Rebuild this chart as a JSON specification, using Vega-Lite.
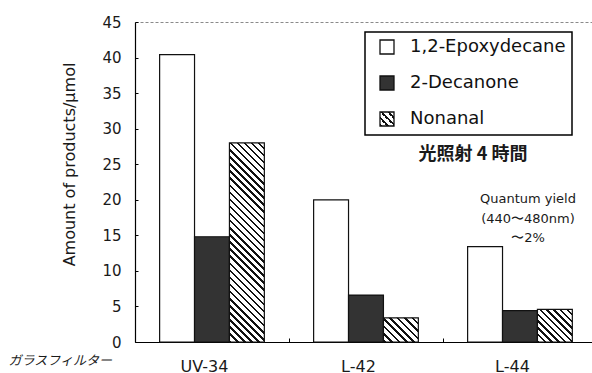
{
  "$schema": "https://vega.github.io/schema/vega-lite/v6.json",
  "width": 457,
  "height": 320,
  "autosize": {"type": "none"},
  "padding": {"left": 135, "top": 22, "right": 0, "bottom": 31},
  "background": "white",
  "view": {"stroke": "#8a8a8a", "strokeDash": [3, 2], "strokeWidth": 1},
  "config": {
    "axis": {"domainColor": "#000", "domainWidth": 1.2, "tickColor": "#000", "tickWidth": 1, "labelColor": "#1a1a1a", "labelFont": "DejaVu Sans", "titleFont": "DejaVu Sans", "titleColor": "#1a1a1a", "grid": false, "labelOverlap": false},
    "legend": {"strokeColor": "#000", "strokeWidth": 1.5, "fillColor": "#fff", "padding": 6, "cornerRadius": 0}
  },
  "data": {"values": [
    {"group": "UV-34", "series": "1,2-Epoxydecane", "value": 40.4},
    {"group": "UV-34", "series": "2-Decanone", "value": 14.8},
    {"group": "UV-34", "series": "Nonanal", "value": 28.0},
    {"group": "L-42", "series": "1,2-Epoxydecane", "value": 20.0},
    {"group": "L-42", "series": "2-Decanone", "value": 6.6},
    {"group": "L-42", "series": "Nonanal", "value": 3.4},
    {"group": "L-44", "series": "1,2-Epoxydecane", "value": 13.4},
    {"group": "L-44", "series": "2-Decanone", "value": 4.4},
    {"group": "L-44", "series": "Nonanal", "value": 4.6}
  ]},
  "layer": [
    {
      "mark": {"type": "bar", "strokeWidth": 1.2},
      "encoding": {
        "x": {
          "field": "group", "type": "nominal",
          "scale": {"domain": ["UV-34", "L-42", "L-44"], "paddingInner": 0.32, "paddingOuter": 0.1438, "align": 0.556},
          "axis": {
            "title": "ガラスフィルター", "titleFont": "Noto Sans CJK JP", "titleFontSize": 13, "titleFontStyle": "italic", "titleFontWeight": "normal",
            "titleX": -127, "titleY": 18, "titleAlign": "left", "titleBaseline": "middle", "titleAngle": 0,
            "labelAngle": 0, "labelFontSize": 16, "labelPadding": 20, "labelBaseline": "top",
            "tickSize": -4, "tickOffset": -77, "labelOffset": 69
          }
        },
        "xOffset": {"field": "series", "type": "nominal", "scale": {"domain": ["1,2-Epoxydecane", "2-Decanone", "Nonanal"], "paddingInner": 0, "paddingOuter": 0}},
        "y": {
          "field": "value", "type": "quantitative",
          "scale": {"domain": [0, 45], "nice": false},
          "axis": {
            "values": [0, 5, 10, 15, 20, 25, 30, 35, 40, 45],
            "title": "Amount of products/μmol", "titleFontSize": 16, "titleFontWeight": "normal",
            "titleAngle": 270, "titleX": -66, "titleY": 142, "titleAlign": "center", "titleBaseline": "middle",
            "labelFontSize": 15, "labelPadding": 17, "tickSize": -3, "labelOverlap": false
          }
        },
        "stroke": {
          "field": "series", "type": "nominal",
          "scale": {"domain": ["1,2-Epoxydecane", "2-Decanone", "Nonanal"], "range": ["#111111", "#111111", "#111111"]},
          "legend": {
            "title": null, "orient": "none", "legendX": 230, "legendY": 10,
            "symbolType": "square", "symbolSize": 196, "symbolStrokeWidth": 1.3, "symbolOffset": 7,
            "labelFont": "DejaVu Sans", "labelFontSize": 18, "labelColor": "#111", "labelOffset": 14, "rowPadding": 16,
            "labelExpr": "datum.label + '\u00a0\u00a0\u00a0\u00a0\u00a0'",
            "encoding": {
              "symbols": {
                "strokeWidth": {"value": 1.3},
                "fill": {
                  "condition": [
                    {"test": "datum.value === 'Nonanal'", "value": {"gradient": "linear", "x1": 0, "y1": 1, "x2": 1, "y2": 0, "stops": [
                      {"offset": 0, "color": "#111"}, {"offset": 0.0875, "color": "#111"}, {"offset": 0.0875, "color": "#fff"}, {"offset": 0.25, "color": "#fff"},
                      {"offset": 0.25, "color": "#111"}, {"offset": 0.3375, "color": "#111"}, {"offset": 0.3375, "color": "#fff"}, {"offset": 0.5, "color": "#fff"},
                      {"offset": 0.5, "color": "#111"}, {"offset": 0.5875, "color": "#111"}, {"offset": 0.5875, "color": "#fff"}, {"offset": 0.75, "color": "#fff"},
                      {"offset": 0.75, "color": "#111"}, {"offset": 0.8375, "color": "#111"}, {"offset": 0.8375, "color": "#fff"}, {"offset": 1, "color": "#fff"}
                    ]}},
                    {"test": "datum.value === '2-Decanone'", "value": "#333333"}
                  ],
                  "value": "#ffffff"
                }
              }
            }
          }
        },
        "fill": {
          "condition": [
            {"test": "datum.series === 'Nonanal' && datum.group === 'UV-34'", "value": {"gradient": "linear", "x1": 0, "y1": 1, "x2": 0.1999, "y2": -0.1403, "stops": [
              {"offset": 0, "color": "#111"}, {"offset": 0.0106, "color": "#111"}, {"offset": 0.0106, "color": "#fff"}, {"offset": 0.0303, "color": "#fff"},
              {"offset": 0.0303, "color": "#111"}, {"offset": 0.0409, "color": "#111"}, {"offset": 0.0409, "color": "#fff"}, {"offset": 0.0606, "color": "#fff"},
              {"offset": 0.0606, "color": "#111"}, {"offset": 0.0712, "color": "#111"}, {"offset": 0.0712, "color": "#fff"}, {"offset": 0.0909, "color": "#fff"},
              {"offset": 0.0909, "color": "#111"}, {"offset": 0.1015, "color": "#111"}, {"offset": 0.1015, "color": "#fff"}, {"offset": 0.1212, "color": "#fff"},
              {"offset": 0.1212, "color": "#111"}, {"offset": 0.1318, "color": "#111"}, {"offset": 0.1318, "color": "#fff"}, {"offset": 0.1515, "color": "#fff"},
              {"offset": 0.1515, "color": "#111"}, {"offset": 0.1621, "color": "#111"}, {"offset": 0.1621, "color": "#fff"}, {"offset": 0.1818, "color": "#fff"},
              {"offset": 0.1818, "color": "#111"}, {"offset": 0.1924, "color": "#111"}, {"offset": 0.1924, "color": "#fff"}, {"offset": 0.2121, "color": "#fff"},
              {"offset": 0.2121, "color": "#111"}, {"offset": 0.2227, "color": "#111"}, {"offset": 0.2227, "color": "#fff"}, {"offset": 0.2424, "color": "#fff"},
              {"offset": 0.2424, "color": "#111"}, {"offset": 0.2530, "color": "#111"}, {"offset": 0.2530, "color": "#fff"}, {"offset": 0.2727, "color": "#fff"},
              {"offset": 0.2727, "color": "#111"}, {"offset": 0.2833, "color": "#111"}, {"offset": 0.2833, "color": "#fff"}, {"offset": 0.3030, "color": "#fff"},
              {"offset": 0.3030, "color": "#111"}, {"offset": 0.3136, "color": "#111"}, {"offset": 0.3136, "color": "#fff"}, {"offset": 0.3333, "color": "#fff"},
              {"offset": 0.3333, "color": "#111"}, {"offset": 0.3439, "color": "#111"}, {"offset": 0.3439, "color": "#fff"}, {"offset": 0.3636, "color": "#fff"},
              {"offset": 0.3636, "color": "#111"}, {"offset": 0.3742, "color": "#111"}, {"offset": 0.3742, "color": "#fff"}, {"offset": 0.3939, "color": "#fff"},
              {"offset": 0.3939, "color": "#111"}, {"offset": 0.4045, "color": "#111"}, {"offset": 0.4045, "color": "#fff"}, {"offset": 0.4242, "color": "#fff"},
              {"offset": 0.4242, "color": "#111"}, {"offset": 0.4348, "color": "#111"}, {"offset": 0.4348, "color": "#fff"}, {"offset": 0.4545, "color": "#fff"},
              {"offset": 0.4545, "color": "#111"}, {"offset": 0.4652, "color": "#111"}, {"offset": 0.4652, "color": "#fff"}, {"offset": 0.4848, "color": "#fff"},
              {"offset": 0.4848, "color": "#111"}, {"offset": 0.4955, "color": "#111"}, {"offset": 0.4955, "color": "#fff"}, {"offset": 0.5152, "color": "#fff"},
              {"offset": 0.5152, "color": "#111"}, {"offset": 0.5258, "color": "#111"}, {"offset": 0.5258, "color": "#fff"}, {"offset": 0.5455, "color": "#fff"},
              {"offset": 0.5455, "color": "#111"}, {"offset": 0.5561, "color": "#111"}, {"offset": 0.5561, "color": "#fff"}, {"offset": 0.5758, "color": "#fff"},
              {"offset": 0.5758, "color": "#111"}, {"offset": 0.5864, "color": "#111"}, {"offset": 0.5864, "color": "#fff"}, {"offset": 0.6061, "color": "#fff"},
              {"offset": 0.6061, "color": "#111"}, {"offset": 0.6167, "color": "#111"}, {"offset": 0.6167, "color": "#fff"}, {"offset": 0.6364, "color": "#fff"},
              {"offset": 0.6364, "color": "#111"}, {"offset": 0.6470, "color": "#111"}, {"offset": 0.6470, "color": "#fff"}, {"offset": 0.6667, "color": "#fff"},
              {"offset": 0.6667, "color": "#111"}, {"offset": 0.6773, "color": "#111"}, {"offset": 0.6773, "color": "#fff"}, {"offset": 0.6970, "color": "#fff"},
              {"offset": 0.6970, "color": "#111"}, {"offset": 0.7076, "color": "#111"}, {"offset": 0.7076, "color": "#fff"}, {"offset": 0.7273, "color": "#fff"},
              {"offset": 0.7273, "color": "#111"}, {"offset": 0.7379, "color": "#111"}, {"offset": 0.7379, "color": "#fff"}, {"offset": 0.7576, "color": "#fff"},
              {"offset": 0.7576, "color": "#111"}, {"offset": 0.7682, "color": "#111"}, {"offset": 0.7682, "color": "#fff"}, {"offset": 0.7879, "color": "#fff"},
              {"offset": 0.7879, "color": "#111"}, {"offset": 0.7985, "color": "#111"}, {"offset": 0.7985, "color": "#fff"}, {"offset": 0.8182, "color": "#fff"},
              {"offset": 0.8182, "color": "#111"}, {"offset": 0.8288, "color": "#111"}, {"offset": 0.8288, "color": "#fff"}, {"offset": 0.8485, "color": "#fff"},
              {"offset": 0.8485, "color": "#111"}, {"offset": 0.8591, "color": "#111"}, {"offset": 0.8591, "color": "#fff"}, {"offset": 0.8788, "color": "#fff"},
              {"offset": 0.8788, "color": "#111"}, {"offset": 0.8894, "color": "#111"}, {"offset": 0.8894, "color": "#fff"}, {"offset": 0.9091, "color": "#fff"},
              {"offset": 0.9091, "color": "#111"}, {"offset": 0.9197, "color": "#111"}, {"offset": 0.9197, "color": "#fff"}, {"offset": 0.9394, "color": "#fff"},
              {"offset": 0.9394, "color": "#111"}, {"offset": 0.9500, "color": "#111"}, {"offset": 0.9500, "color": "#fff"}, {"offset": 0.9697, "color": "#fff"},
              {"offset": 0.9697, "color": "#111"}, {"offset": 0.9803, "color": "#111"}, {"offset": 0.9803, "color": "#fff"}, {"offset": 1, "color": "#fff"}
            ]}},
            {"test": "datum.series === 'Nonanal' && datum.group === 'L-42'", "value": {"gradient": "linear", "x1": 0, "y1": 1, "x2": 1.1439, "y2": 0.2077, "stops": [
              {"offset": 0, "color": "#111"}, {"offset": 0.0438, "color": "#111"}, {"offset": 0.0438, "color": "#fff"}, {"offset": 0.125, "color": "#fff"},
              {"offset": 0.125, "color": "#111"}, {"offset": 0.1688, "color": "#111"}, {"offset": 0.1688, "color": "#fff"}, {"offset": 0.25, "color": "#fff"},
              {"offset": 0.25, "color": "#111"}, {"offset": 0.2938, "color": "#111"}, {"offset": 0.2938, "color": "#fff"}, {"offset": 0.375, "color": "#fff"},
              {"offset": 0.375, "color": "#111"}, {"offset": 0.4188, "color": "#111"}, {"offset": 0.4188, "color": "#fff"}, {"offset": 0.5, "color": "#fff"},
              {"offset": 0.5, "color": "#111"}, {"offset": 0.5438, "color": "#111"}, {"offset": 0.5438, "color": "#fff"}, {"offset": 0.625, "color": "#fff"},
              {"offset": 0.625, "color": "#111"}, {"offset": 0.6688, "color": "#111"}, {"offset": 0.6688, "color": "#fff"}, {"offset": 0.75, "color": "#fff"},
              {"offset": 0.75, "color": "#111"}, {"offset": 0.7938, "color": "#111"}, {"offset": 0.7938, "color": "#fff"}, {"offset": 0.875, "color": "#fff"},
              {"offset": 0.875, "color": "#111"}, {"offset": 0.9188, "color": "#111"}, {"offset": 0.9188, "color": "#fff"}, {"offset": 1, "color": "#fff"}
            ]}},
            {"test": "datum.series === 'Nonanal' && datum.group === 'L-44'", "value": {"gradient": "linear", "x1": 0, "y1": 1, "x2": 1.0314, "y2": 0.0336, "stops": [
              {"offset": 0, "color": "#111"}, {"offset": 0.035, "color": "#111"}, {"offset": 0.035, "color": "#fff"}, {"offset": 0.1, "color": "#fff"},
              {"offset": 0.1, "color": "#111"}, {"offset": 0.135, "color": "#111"}, {"offset": 0.135, "color": "#fff"}, {"offset": 0.2, "color": "#fff"},
              {"offset": 0.2, "color": "#111"}, {"offset": 0.235, "color": "#111"}, {"offset": 0.235, "color": "#fff"}, {"offset": 0.3, "color": "#fff"},
              {"offset": 0.3, "color": "#111"}, {"offset": 0.335, "color": "#111"}, {"offset": 0.335, "color": "#fff"}, {"offset": 0.4, "color": "#fff"},
              {"offset": 0.4, "color": "#111"}, {"offset": 0.435, "color": "#111"}, {"offset": 0.435, "color": "#fff"}, {"offset": 0.5, "color": "#fff"},
              {"offset": 0.5, "color": "#111"}, {"offset": 0.535, "color": "#111"}, {"offset": 0.535, "color": "#fff"}, {"offset": 0.6, "color": "#fff"},
              {"offset": 0.6, "color": "#111"}, {"offset": 0.635, "color": "#111"}, {"offset": 0.635, "color": "#fff"}, {"offset": 0.7, "color": "#fff"},
              {"offset": 0.7, "color": "#111"}, {"offset": 0.735, "color": "#111"}, {"offset": 0.735, "color": "#fff"}, {"offset": 0.8, "color": "#fff"},
              {"offset": 0.8, "color": "#111"}, {"offset": 0.835, "color": "#111"}, {"offset": 0.835, "color": "#fff"}, {"offset": 0.9, "color": "#fff"},
              {"offset": 0.9, "color": "#111"}, {"offset": 0.935, "color": "#111"}, {"offset": 0.935, "color": "#fff"}, {"offset": 1, "color": "#fff"}
            ]}},
            {"test": "datum.series === '2-Decanone'", "value": "#333333"}
          ],
          "value": "#ffffff"
        }
      }
    },
    {
      "data": {"values": [{}]},
      "mark": {"type": "text", "text": "光照射 4 時間", "font": "Noto Sans CJK JP", "fontSize": 18, "fontWeight": "bold", "color": "#1a1a1a", "dx": -47, "align": "center", "baseline": "middle"},
      "encoding": {
        "x": {"datum": "L-44", "type": "nominal",
          "axis": {
            "title": "ガラスフィルター", "titleFont": "Noto Sans CJK JP", "titleFontSize": 13, "titleFontStyle": "italic", "titleFontWeight": "normal",
            "titleX": -127, "titleY": 18, "titleAlign": "left", "titleBaseline": "middle", "titleAngle": 0,
            "labelAngle": 0, "labelFontSize": 16, "labelPadding": 20, "labelBaseline": "top",
            "tickSize": -4, "tickOffset": -77, "labelOffset": 69
          }},
        "y": {"datum": 26.3, "type": "quantitative",
          "axis": {
            "values": [0, 5, 10, 15, 20, 25, 30, 35, 40, 45],
            "title": "Amount of products/μmol", "titleFontSize": 16, "titleFontWeight": "normal",
            "titleAngle": 270, "titleX": -66, "titleY": 142, "titleAlign": "center", "titleBaseline": "middle",
            "labelFontSize": 15, "labelPadding": 17, "tickSize": -3, "labelOverlap": false
          }}
      }
    },
    {
      "data": {"values": [{}]},
      "mark": {"type": "text", "text": ["Quantum yield", "(440〜480nm)", "〜2%"], "font": "DejaVu Sans", "fontSize": 13, "lineHeight": 19.5, "color": "#1a1a1a", "dx": 8, "align": "center", "baseline": "middle"},
      "encoding": {
        "x": {"datum": "L-44", "type": "nominal",
          "axis": {
            "title": "ガラスフィルター", "titleFont": "Noto Sans CJK JP", "titleFontSize": 13, "titleFontStyle": "italic", "titleFontWeight": "normal",
            "titleX": -127, "titleY": 18, "titleAlign": "left", "titleBaseline": "middle", "titleAngle": 0,
            "labelAngle": 0, "labelFontSize": 16, "labelPadding": 20, "labelBaseline": "top",
            "tickSize": -4, "tickOffset": -77, "labelOffset": 69
          }},
        "y": {"datum": 20.1, "type": "quantitative",
          "axis": {
            "values": [0, 5, 10, 15, 20, 25, 30, 35, 40, 45],
            "title": "Amount of products/μmol", "titleFontSize": 16, "titleFontWeight": "normal",
            "titleAngle": 270, "titleX": -66, "titleY": 142, "titleAlign": "center", "titleBaseline": "middle",
            "labelFontSize": 15, "labelPadding": 17, "tickSize": -3, "labelOverlap": false
          }}
      }
    }
  ]
}
